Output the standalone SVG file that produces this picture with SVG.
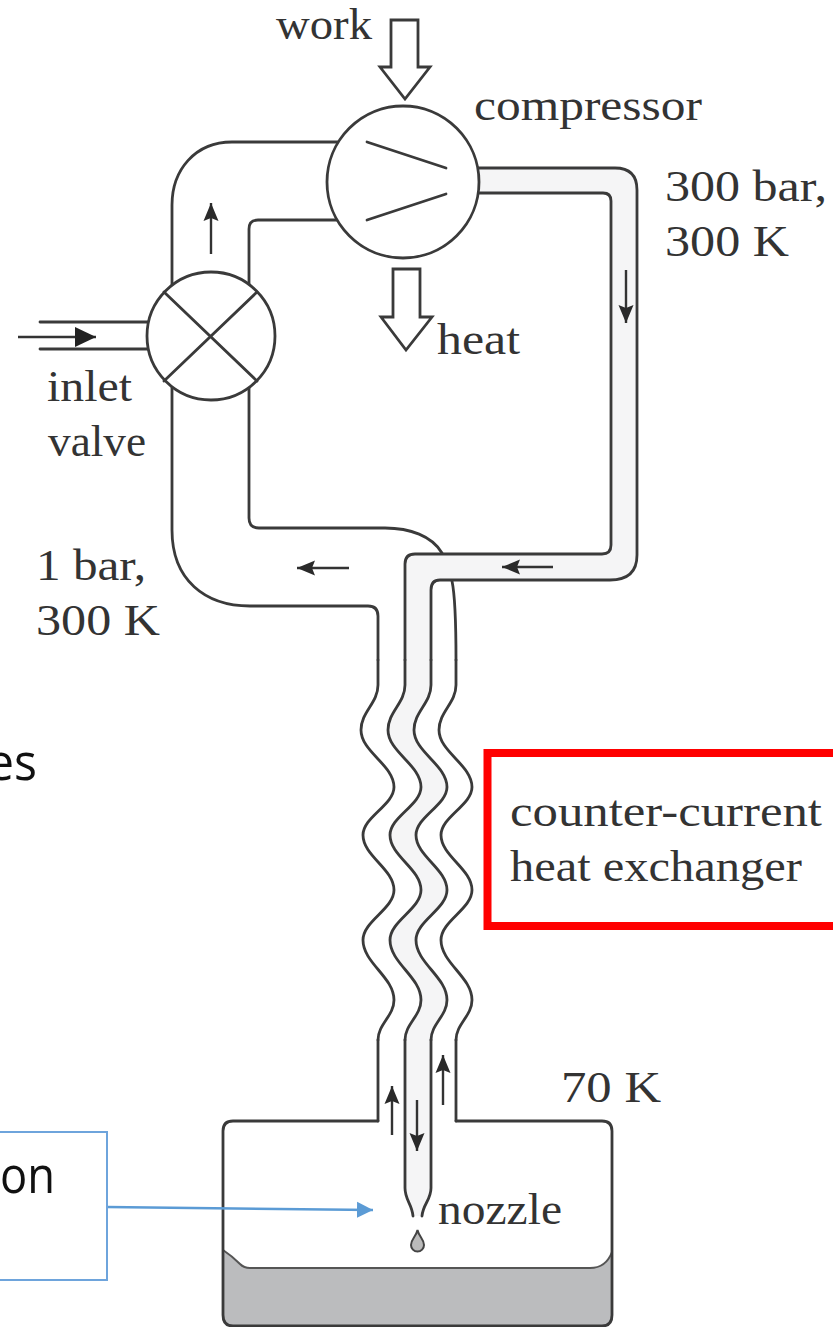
<svg xmlns="http://www.w3.org/2000/svg" width="833" height="1327" viewBox="0 0 833 1327">
<style>
.l{fill:none;stroke:#3a3a3a;stroke-width:2.8;stroke-linecap:round;stroke-linejoin:round}
.o{fill:#fff;stroke:#3a3a3a;stroke-width:2.8}
.a{fill:#fff;stroke:#3a3a3a;stroke-width:2.8;stroke-linejoin:miter}
.t{font-family:"Liberation Serif",serif;font-size:45px;fill:#333}
.c{font-family:"Open Sans","Liberation Sans",sans-serif;font-size:52px;fill:#111}
.f{stroke:#333;stroke-width:2.4;fill:none}
</style>
<defs>
<marker id="h" markerUnits="userSpaceOnUse" markerWidth="19" markerHeight="16" refX="18" refY="8" orient="auto"><path d="M0 0.5L18 8L0 15.5L3 8Z" fill="#2a2a2a"/></marker>
<marker id="i" markerUnits="userSpaceOnUse" markerWidth="22" markerHeight="22" refX="21" refY="11" orient="auto"><path d="M0 1L21 11L0 21Z" fill="#222"/></marker>
<marker id="b" markerUnits="userSpaceOnUse" markerWidth="17" markerHeight="18" refX="16" refY="9" orient="auto"><path d="M0 1L16 9L0 17Z" fill="#5b9bd5"/></marker>
<path id="w" d="M0 0v25c0 18 -17 27 -17 45c0 22 33 35 33 57c0 18 -31 30 -31 48c0 21 31 34 31 55c0 19 -31 31 -31 50c0 23 31 37 31 60c0 16 -16 24 -16 40"/>
</defs>
<g id="tank">
<path d="M223 1250Q232 1256 240 1264Q244 1268 250 1268H590Q606 1268 612 1252V1315Q612 1326 602 1326H233Q223 1326 223 1315Z" fill="#bbbcbe"/>
<path d="M223 1250Q232 1256 240 1264Q244 1268 250 1268H590Q606 1268 612 1252" fill="none" stroke="#555" stroke-width="2"/>
<path class="l" d="M378 1121H233Q223 1121 223 1131V1315Q223 1326 233 1326H602Q612 1326 612 1315V1131Q612 1121 602 1121H456"/>
</g>
<g id="pipes">
<path d="M405 660V564Q405 554 415 554H602Q611 554 611 545V201Q611 193 603 193H470V168H615Q637 168 637 190V555Q637 580 610 580H440Q431 580 431 590V685c0 18 -17 27 -17 45c0 22 33 35 33 57c0 18 -31 30 -31 48c0 21 31 34 31 55c0 19 -31 31 -31 50c0 23 31 37 31 60c0 16 -16 24 -16 40V1188C431 1200 423 1204 422 1216H413C412 1204 405 1200 405 1188V1040c0 -16 16 -24 16 -40c0 -23 -31 -37 -31 -60c0 -19 31 -31 31 -50c0 -21 -31 -34 -31 -55c0 -18 31 -30 31 -48c0 -22 -33 -35 -33 -57c0 -18 17 -27 17 -45Z" fill="#f5f5f6"/>
<g class="l">
<path d="M345 142H232C195 142 172 170 172 205V290"/>
<path d="M345 220H258Q249 220 249 229V290"/>
<path d="M172 380V530C172 580 205 606 250 606H368Q378 606 378 616V660"/>
<path d="M249 380V518Q249 528 259 528H385C410 528 432 536 442 553"/>
<path d="M470 168H615Q637 168 637 190V555Q637 580 610 580H440Q431 580 431 590V660"/>
<path d="M470 193H603Q611 193 611 201V545Q611 554 602 554H415Q405 554 405 564V660"/>
<path d="M452 581Q456 600 456 660"/>
<use href="#w" transform="translate(378 660)"/>
<use href="#w" transform="translate(405 660)"/>
<use href="#w" transform="translate(431 660)"/>
<use href="#w" transform="translate(456 660)"/>
<path d="M378 1040V1121M405 1040V1188C405 1200 412 1204 413 1216M431 1040V1188C431 1200 423 1204 422 1216M456 1040V1121"/>
<path d="M40 322H155M40 349H155"/>
</g>
</g>
<g id="compressor">
<circle cx="403" cy="182" r="76" class="o"/>
<path class="l" d="M367 142L446 168M367 220L446 194"/>
</g>
<g id="valve">
<circle cx="211" cy="336" r="64" class="o"/>
<path class="l" d="M164 292L257 381M257 292L164 381"/>
</g>
<g id="work-arrow"><path class="a" d="M391 20H418V67H430L405 99L380 67H391Z"/></g>
<g id="heat-arrow"><path class="a" d="M393 269H420V317H432L406 350L381 317H393Z"/></g>
<g id="drop"><path d="M417.500 1230C419 1237 424 1239 424 1245A6.500 6.500 0 0 1 411 1245C411 1239 416 1237 417.500 1230Z" fill="#bbb" stroke="#444" stroke-width="2"/></g>
<g id="connectors">
<path class="f" marker-end="url(#h)" d="M211 254V203"/>
<path class="f" marker-end="url(#i)" d="M18 337H96"/>
<path class="f" marker-end="url(#h)" d="M349 568H297"/>
<path class="f" marker-end="url(#h)" d="M553 567H502"/>
<path class="f" marker-end="url(#h)" d="M626 270V323"/>
<path class="f" marker-end="url(#h)" d="M392 1135V1086"/>
<path class="f" marker-end="url(#h)" d="M417 1100V1151"/>
<path class="f" marker-end="url(#h)" d="M443 1105V1055"/>
<path fill="none" stroke="#5b9bd5" stroke-width="2.500" marker-end="url(#b)" d="M107 1207L373 1210"/>
</g>
<g id="labels">
<text class="t" x="276" y="39" textLength="96" lengthAdjust="spacingAndGlyphs">work</text>
<text class="t" x="474" y="120" textLength="228" lengthAdjust="spacingAndGlyphs">compressor</text>
<text class="t" x="665" y="201" textLength="162" lengthAdjust="spacingAndGlyphs">300 bar,</text>
<text class="t" x="665" y="256" textLength="124" lengthAdjust="spacingAndGlyphs">300 K</text>
<text class="t" x="437" y="354" textLength="83" lengthAdjust="spacingAndGlyphs">heat</text>
<text class="t" x="47" y="401" textLength="85" lengthAdjust="spacingAndGlyphs">inlet</text>
<text class="t" x="48" y="456" textLength="98" lengthAdjust="spacingAndGlyphs">valve</text>
<text class="t" x="36" y="580" textLength="110" lengthAdjust="spacingAndGlyphs">1 bar,</text>
<text class="t" x="36" y="635" textLength="124" lengthAdjust="spacingAndGlyphs">300 K</text>
<text class="t" x="561" y="1102" textLength="100" lengthAdjust="spacingAndGlyphs">70 K</text>
<text class="t" x="438" y="1224" textLength="124" lengthAdjust="spacingAndGlyphs">nozzle</text>
<text class="t" x="510" y="826" textLength="312" lengthAdjust="spacingAndGlyphs">counter-current</text>
<text class="t" x="510" y="881" textLength="292" lengthAdjust="spacingAndGlyphs">heat exchanger</text>
<text class="c" x="-13" y="780" textLength="50" lengthAdjust="spacingAndGlyphs">es</text>
<text class="c" x="0" y="1193" textLength="55" lengthAdjust="spacingAndGlyphs">on</text>
</g>
<g id="boxes">
<rect x="487.500" y="753" width="360" height="173" fill="none" stroke="#f00" stroke-width="8"/>
<rect x="-10" y="1132" width="117" height="148" fill="none" stroke="#6ea4dc" stroke-width="2"/>
</g>
</svg>
